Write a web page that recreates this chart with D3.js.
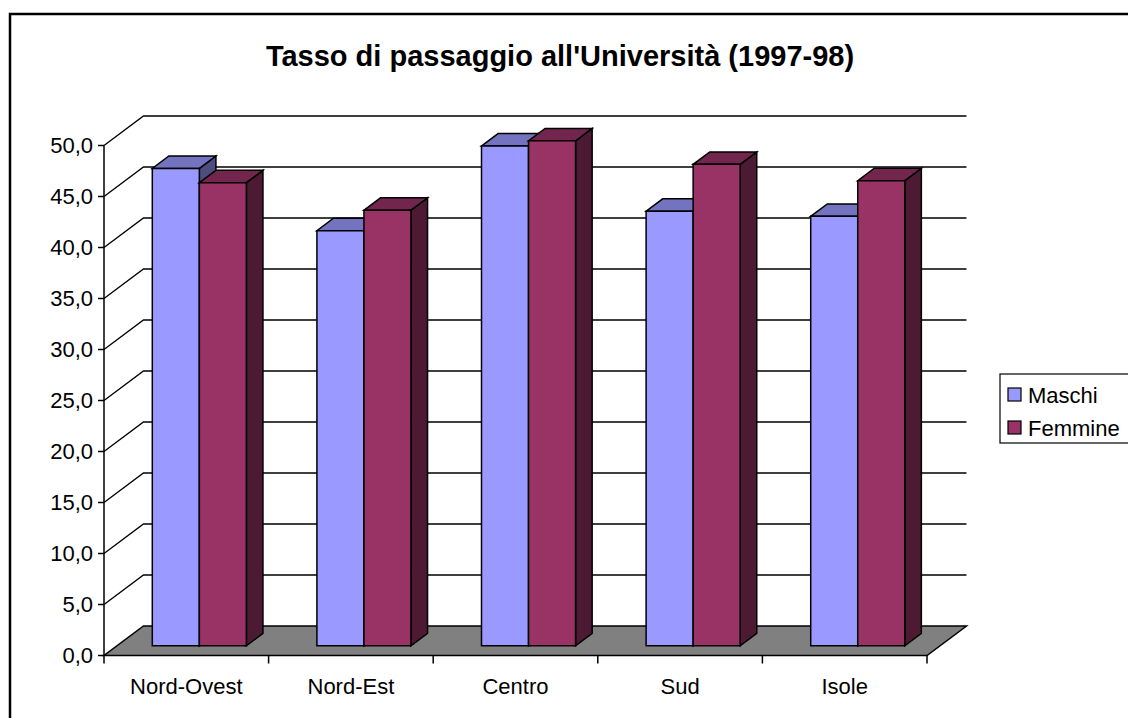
<!DOCTYPE html>
<html lang="it">
<head>
  <meta charset="UTF-8">
  <title>Tasso di passaggio all'Università (1997-98)</title>
  <script src="https://d3js.org/d3.v7.min.js"></script>
  <style>
    body {
      margin: 0;
      background: #fff;
      font-family: "Liberation Sans", Arial, sans-serif;
    }
    svg {
      display: block;
    }
    .face {
      stroke: #000;
      stroke-width: 1.5;
      stroke-linejoin: miter;
    }
    .grid {
      stroke: #000;
      stroke-width: 1.3;
      fill: none;
    }
    .axis-line {
      stroke: #000;
      stroke-width: 1.5;
    }
    .tick-label {
      font-size: 22px;
      fill: #000;
    }
  </style>
</head>
<body>
<svg></svg>
<script>
  // Data
  const categories = ["Nord-Ovest", "Nord-Est", "Centro", "Sud", "Isole"];
  const seriesNames = ["Maschi", "Femmine"];
  const maschi = [46.8, 40.7, 49.0, 42.6, 42.1];
  const femmine = [45.4, 42.7, 49.5, 47.2, 45.6];
  const yTickValues = [0, 5, 10, 15, 20, 25, 30, 35, 40, 45, 50];

  // Colours per series: front, top, side
  const colors = {
    Maschi:  {front: "#9999FF", top: "#7373BF", side: "#4D4D80"},
    Femmine: {front: "#993366", top: "#73264D", side: "#4D1A33"}
  };

  const width = 1128, height = 718;
  const svg = d3.select("svg").attr("width", width).attr("height", height);

  // Plot frame (front-left corner of the floor is at x0,yBase)
  const x0 = 104, x1 = 927, yBase = 655.5, yTop = 145.5;
  // 3D depth offset of the back wall
  const DX = 39.5, DY = -29.5;
  // bars occupy this depth range
  const F0 = 0.33, F1 = 0.75;

  const x = d3.scaleBand().domain(categories).range([x0, x1]);
  const xs = d3.scaleBand().domain(seriesNames).range([0, x.bandwidth()])
    .paddingInner(0).paddingOuter(0.75);
  const y = d3.scaleLinear().domain([0, 50]).range([yBase, yTop]);

  const fmt = d3.formatLocale({decimal: ",", thousands: ".", grouping: [3], currency: ["", "€"]}).format(".1f");

  // project a point at depth f (0 = front, 1 = back wall)
  const P = (px, py, f) => [px + DX * f, py + DY * f];
  const poly = pts => "M" + pts.map(p => p.join(",")).join("L") + "Z";

  // Outer chart border
  svg.append("rect")
    .attr("x", 10).attr("y", 14)
    .attr("width", width + 20).attr("height", height + 20)
    .attr("fill", "none")
    .attr("stroke", "#000")
    .attr("stroke-width", 2.5);

  // Title
  svg.append("text")
    .attr("x", 560).attr("y", 66)
    .attr("text-anchor", "middle")
    .attr("font-weight", "bold")
    .attr("font-size", 29)
    .text("Tasso di passaggio all'Università (1997-98)");

  // Floor
  svg.append("path")
    .attr("d", poly([P(x0, yBase, 0), P(x1, yBase, 0), P(x1, yBase, 1), P(x0, yBase, 1)]))
    .attr("fill", "#808080")
    .attr("class", "face");

  // Gridlines on left wall and back wall
  const grid = svg.append("g");
  yTickValues.filter(t => t > 0).forEach(t => {
    const a = P(x0, y(t), 0), b = P(x0, y(t), 1), c = P(x1, y(t), 1);
    grid.append("path")
      .attr("class", "grid")
      .attr("d", `M${a}L${b}L${c}`);
  });

  // Y axis
  svg.append("line").attr("class", "axis-line")
    .attr("x1", x0).attr("x2", x0).attr("y1", yTop).attr("y2", yBase);
  const yAxis = svg.append("g");
  yAxis.selectAll("line")
    .data(yTickValues)
    .join("line")
    .attr("class", "axis-line")
    .attr("x1", x0 - 6).attr("x2", x0)
    .attr("y1", d => y(d)).attr("y2", d => y(d));
  yAxis.selectAll("text")
    .data(yTickValues)
    .join("text")
    .attr("class", "tick-label")
    .attr("x", x0 - 11)
    .attr("y", d => y(d))
    .attr("dy", "0.35em")
    .attr("text-anchor", "end")
    .text(d => fmt(d));

  // X axis (front edge of floor) with ticks at category boundaries
  const bounds = categories.map(c => x(c)).concat([x1]);
  svg.selectAll(".xtick")
    .data(bounds)
    .join("line")
    .attr("class", "axis-line")
    .attr("x1", d => d).attr("x2", d => d)
    .attr("y1", yBase).attr("y2", yBase + 8);
  svg.selectAll(".xlabel")
    .data(categories)
    .join("text")
    .attr("class", "tick-label")
    .attr("x", d => x(d) + x.bandwidth() / 2)
    .attr("y", yBase + 38)
    .attr("text-anchor", "middle")
    .text(d => d);

  // Bars, drawn left to right so nearer faces cover farther ones
  const bars = [];
  categories.forEach((c, i) => {
    bars.push({cat: c, s: "Maschi", v: maschi[i]});
    bars.push({cat: c, s: "Femmine", v: femmine[i]});
  });
  const bw = xs.bandwidth();
  const barG = svg.append("g");
  bars.forEach(d => {
    const bx = x(d.cat) + xs(d.s);
    const yv = y(d.v);
    const g = barG.append("g");
    // side
    g.append("path").attr("class", "face")
      .attr("fill", colors[d.s].side)
      .attr("d", poly([P(bx + bw, yv, F0), P(bx + bw, yBase, F0), P(bx + bw, yBase, F1), P(bx + bw, yv, F1)]));
    // top
    g.append("path").attr("class", "face")
      .attr("fill", colors[d.s].top)
      .attr("d", poly([P(bx, yv, F0), P(bx + bw, yv, F0), P(bx + bw, yv, F1), P(bx, yv, F1)]));
    // front
    g.append("path").attr("class", "face")
      .attr("fill", colors[d.s].front)
      .attr("d", poly([P(bx, yv, F0), P(bx + bw, yv, F0), P(bx + bw, yBase, F0), P(bx, yBase, F0)]));
  });

  // Legend
  const legend = svg.append("g");
  legend.append("rect")
    .attr("x", 1000).attr("y", 374)
    .attr("width", 160).attr("height", 69)
    .attr("fill", "#fff")
    .attr("stroke", "#000")
    .attr("stroke-width", 1.2);
  seriesNames.forEach((s, i) => {
    legend.append("rect")
      .attr("x", 1008).attr("y", 388 + i * 33)
      .attr("width", 13).attr("height", 13)
      .attr("fill", colors[s].front)
      .attr("stroke", "#000")
      .attr("stroke-width", 1.2);
    legend.append("text")
      .attr("class", "tick-label")
      .attr("x", 1028).attr("y", 395 + i * 33)
      .attr("dy", "0.35em")
      .text(s);
  });
</script>
</body>
</html>
